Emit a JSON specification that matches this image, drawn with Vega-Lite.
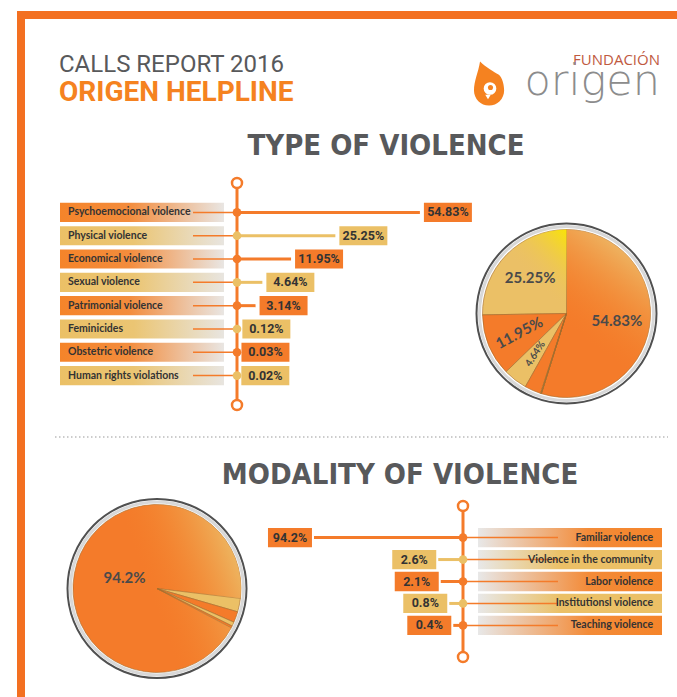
{
"$schema":"https://vega.github.io/schema/vega-lite/v6.json",
"background":"white",
"padding":{"left":17,"top":11,"right":0,"bottom":0},
"config":{"view":{"stroke":null},"axis":{"disable":true},"concat":{"spacing":0}},
"datasets":{
 "types":[
  {"type":"Psychoemocional violence","share":0.5483},
  {"type":"Physical violence","share":0.2525},
  {"type":"Economical violence","share":0.1195},
  {"type":"Sexual violence","share":0.0464},
  {"type":"Patrimonial violence","share":0.0314},
  {"type":"Feminicides","share":0.0012},
  {"type":"Obstetric violence","share":0.0003},
  {"type":"Human rights violations","share":0.0002}
 ],
 "modes":[
  {"mode":"Familiar violence","share":0.942},
  {"mode":"Violence in the community","share":0.026},
  {"mode":"Labor violence","share":0.021},
  {"mode":"Institutionsl violence","share":0.008},
  {"mode":"Teaching violence","share":0.004}
 ],
 "blank":[{}],
 "none":[]
},
"spacing":0,
"hconcat":[
 {"width":8,"height":686,"view":{"fill":"#F37021"},"data":{"name":"none"},"mark":"point"},
 {"spacing":0,"vconcat":[
  {"width":652,"height":8,"view":{"fill":"#F37021"},"data":{"name":"none"},"mark":"point"},
  {"width":652,"height":34,"data":{"name":"none"},"mark":"point"},
  {"spacing":0,"hconcat":[
   {"width":390,"height":21,"data":{"name":"none"},"mark":"point",
    "title":{"text":"CALLS REPORT 2016","subtitle":"ORIGEN HELPLINE","anchor":"start","frame":"group","dx":34,"offset":4,"font":"Roboto","fontSize":24,"fontWeight":"normal","color":"#58595B","subtitleFont":"Roboto","subtitleFontSize":28,"subtitleFontWeight":"bold","subtitleColor":"#F58220","subtitlePadding":2}},
   {"width":90,"height":21,"data":{"name":"blank"},
    "layer":[
     {"mark":{"type":"point","shape":"M-0.42,-1 C-0.15,-0.72 0.2,-0.55 0.4,-0.42 C0.58,-0.28 0.65,0.05 0.65,0.29 C0.65,0.66 0.35,0.96 -0.02,0.96 C-0.39,0.96 -0.69,0.66 -0.69,0.29 C-0.69,-0.15 -0.5,-0.5 -0.42,-1 Z","size":2025,"filled":true,"color":"#F58220","opacity":1},"encoding":{"x":{"value":74.5},"y":{"value":-27}}},
     {"mark":{"type":"point","shape":"circle","size":160,"filled":true,"color":"white","opacity":1},"encoding":{"x":{"value":75},"y":{"value":-22.5}}},
     {"mark":{"type":"point","shape":"triangle-down","size":30,"filled":true,"color":"white","opacity":1},"encoding":{"x":{"value":73},"y":{"value":-14}}},
     {"mark":{"type":"point","shape":"circle","size":26,"filled":true,"color":"#F58220","opacity":1},"encoding":{"x":{"value":75.5},"y":{"value":-23.5}}}
    ]},
   {"width":172,"height":21,"data":{"name":"none"},"mark":"point",
    "title":{"text":"FUNDACIÓN","subtitle":"origen","anchor":"end","frame":"group","dx":-17,"offset":7,"font":"Open Sans","fontSize":15,"fontWeight":"normal","color":"#BF5A3F","subtitleFont":"DejaVu Sans","subtitleFontSize":43,"subtitleFontWeight":200,"subtitleColor":"#8C8C8C","subtitlePadding":-7}}
  ]},
  {"title":{"text":"TYPE OF VIOLENCE","anchor":"middle","dx":33,"offset":12,"font":"DejaVu Sans Condensed","fontSize":29,"fontWeight":"bold","color":"#58595B"},
   "spacing":0,
   "hconcat":[
    {"width":446,"height":236,"data":{"name":"types"},
     "layer":[
      {"transform":[{"filter":{"field":"type","oneOf":["Psychoemocional violence","Economical violence","Patrimonial violence","Obstetric violence"]}}],
       "mark":{"type":"rect","x":35,"x2":199,"fill":{"gradient":"linear","x1":0,"y1":0,"x2":1,"y2":0,"stops":[{"offset":0,"color":"#F5842A"},{"offset":0.42,"color":"#F38C3C"},{"offset":1,"color":"#E9E6E3"}]}},
       "encoding":{"y":{"field":"type","type":"nominal","sort":null,"axis":null,"scale":{"domain":["Psychoemocional violence","Physical violence","Economical violence","Sexual violence","Patrimonial violence","Feminicides","Obstetric violence","Human rights violations"],"range":[7,229],"paddingOuter":0.85,"paddingInner":0.18}}}},
      {"transform":[{"filter":{"field":"type","oneOf":["Physical violence","Sexual violence","Feminicides","Human rights violations"]}}],
       "mark":{"type":"rect","x":35,"x2":199,"fill":{"gradient":"linear","x1":0,"y1":0,"x2":1,"y2":0,"stops":[{"offset":0,"color":"#EBC066"},{"offset":0.45,"color":"#EBC573"},{"offset":1,"color":"#E8E5E0"}]}},
       "encoding":{"y":{"field":"type","type":"nominal","sort":null}}},
      {"mark":{"type":"rule","x":168,"x2":212,"color":"#F47B2A","strokeWidth":1.5},"encoding":{"y":{"field":"type","type":"nominal","sort":null}}},
      {"mark":{"type":"text","x":43,"align":"left","font":"Lato","fontSize":10.5,"fontWeight":"bold","color":"#333333"},"encoding":{"y":{"field":"type","type":"nominal","sort":null},"text":{"field":"type"}}},
      {"data":{"name":"blank"},"mark":{"type":"rule","y":7,"y2":229,"color":"#F47B2A","strokeWidth":3},"encoding":{"x":{"datum":0,"type":"quantitative","axis":null,"scale":{"type":"pow","exponent":0.8,"domain":[0,0.754],"range":[212,448],"nice":false}}}},
      {"mark":{"type":"rule","strokeWidth":3},"encoding":{
        "x":{"field":"share","type":"quantitative"},
        "x2":{"datum":0},
        "y":{"field":"type","type":"nominal","sort":null},
        "color":{"field":"type","type":"nominal","legend":null,"scale":{"domain":["Psychoemocional violence","Physical violence","Economical violence","Sexual violence","Patrimonial violence","Feminicides","Obstetric violence","Human rights violations"],"range":["#F47B2A","#EBC066","#F47B2A","#EBC066","#F47B2A","#EBC066","#F47B2A","#EBC066"]}}}},
      {"data":{"name":"blank"},"mark":{"type":"point","filled":true,"fill":"white","stroke":"#F47B2A","strokeWidth":2.5,"size":100,"opacity":1},"encoding":{"x":{"datum":0,"type":"quantitative"},"y":{"value":7}}},
      {"data":{"name":"blank"},"mark":{"type":"point","filled":true,"fill":"white","stroke":"#F47B2A","strokeWidth":2.5,"size":100,"opacity":1},"encoding":{"x":{"datum":0,"type":"quantitative"},"y":{"value":229}}},
      {"mark":{"type":"point","filled":true,"size":75,"opacity":1},"encoding":{"x":{"datum":0,"type":"quantitative"},"y":{"field":"type","type":"nominal","sort":null},"color":{"field":"type","type":"nominal"}}},
      {"mark":{"type":"rect","xOffset":4,"x2Offset":52},"encoding":{"x":{"field":"share","type":"quantitative"},"x2":{"field":"share"},"y":{"field":"type","type":"nominal","sort":null},"color":{"field":"type","type":"nominal"}}},
      {"mark":{"type":"text","xOffset":28,"font":"Roboto","fontSize":12.5,"fontWeight":"bold","color":"#333333"},"encoding":{"x":{"field":"share","type":"quantitative"},"y":{"field":"type","type":"nominal","sort":null},"text":{"field":"share","type":"quantitative","format":".2%"}}}
     ]},
    {"width":206,"height":236,"data":{"name":"types"},
     "layer":[
      {"data":{"name":"blank"},"mark":{"type":"arc","theta":0,"theta2":6.2832,"radius":90,"fill":"white","stroke":"#505050","strokeWidth":2,"xOffset":-11.5,"yOffset":19.5},"encoding":{}},
      {"data":{"name":"blank"},"mark":{"type":"arc","theta":0,"theta2":6.2832,"radius":87,"fill":"white","stroke":"#d8d8d8","strokeWidth":3,"xOffset":-11.5,"yOffset":19.5},"encoding":{}},
      {"mark":{"type":"arc","radius":84,"stroke":"#a36b2c","strokeWidth":0.6,"xOffset":-11.5,"yOffset":19.5},"encoding":{
        "theta":{"field":"share","type":"quantitative","stack":true,"scale":{"range":[3.4454,9.7286]}},
        "order":{"field":"share","sort":"ascending"},
        "color":{"field":"type","type":"nominal","legend":null,"scale":{"domain":["Psychoemocional violence","Physical violence","Economical violence","Sexual violence","Patrimonial violence","Feminicides","Obstetric violence","Human rights violations"],"range":["#F5842A","#EBC066","#F5842A","#E9CB50","#F5842A","#EBC066","#F5842A","#EBC066"]}}}},
      {"mark":{"type":"arc","radius":84,"xOffset":-11.5,"yOffset":19.5,"fill":{"gradient":"linear","x1":0.6,"y1":0,"x2":0.3,"y2":0.6,"stops":[{"offset":0,"color":"rgba(236,192,110,0.9)"},{"offset":1,"color":"rgba(245,132,42,0)"}]}},"encoding":{
        "theta":{"field":"share","type":"quantitative","stack":true},
        "order":{"field":"share","sort":"ascending"},
        "fillOpacity":{"condition":{"test":"datum.type === 'Psychoemocional violence'","value":1},"value":0}}},
      {"mark":{"type":"arc","radius":84,"xOffset":-11.5,"yOffset":19.5,"fill":{"gradient":"linear","x1":1,"y1":0,"x2":0.5,"y2":0.5,"stops":[{"offset":0,"color":"rgba(250,230,0,0.95)"},{"offset":1,"color":"rgba(235,192,102,0)"}]}},"encoding":{
        "theta":{"field":"share","type":"quantitative","stack":true},
        "order":{"field":"share","sort":"ascending"},
        "fillOpacity":{"condition":{"test":"datum.type === 'Physical violence'","value":1},"value":0}}},
      {"mark":{"type":"text","radius":51,"xOffset":-11.5,"yOffset":19.5,"font":"Lato","fontWeight":"bold","color":"#4a4a4a"},"encoding":{
        "theta":{"field":"share","type":"quantitative","stack":true},
        "order":{"field":"share","sort":"ascending"},
        "text":{"field":"share","type":"quantitative","format":".2%"},
        "size":{"condition":{"test":"datum.type === 'Sexual violence'","value":10},"value":15},
        "angle":{"condition":[{"test":"datum.type === 'Economical violence'","value":-28},{"test":"datum.type === 'Sexual violence'","value":-57}],"value":0},
        "opacity":{"condition":{"test":"datum.share < 0.04","value":0},"value":1}}}
     ]}
   ]},
  {"width":652,"height":46,"data":{"name":"blank"},"mark":{"type":"rule","strokeDash":[1.5,2.5],"color":"#9a9a9a","strokeWidth":1.2},"encoding":{"x":{"value":30},"x2":{"value":643},"y":{"value":22}}},
  {"title":{"text":"MODALITY OF VIOLENCE","anchor":"middle","dx":49,"offset":5,"font":"DejaVu Sans Condensed","fontSize":29,"fontWeight":"bold","color":"#58595B"},
   "spacing":0,
   "hconcat":[
    {"width":235,"height":167,"data":{"name":"modes"},
     "layer":[
      {"data":{"name":"blank"},"mark":{"type":"arc","theta":0,"theta2":6.2832,"radius":89.5,"fill":"white","stroke":"#505050","strokeWidth":2,"xOffset":14.5,"yOffset":8},"encoding":{}},
      {"data":{"name":"blank"},"mark":{"type":"arc","theta":0,"theta2":6.2832,"radius":86.5,"fill":"white","stroke":"#d8d8d8","strokeWidth":3,"xOffset":14.5,"yOffset":8},"encoding":{}},
      {"mark":{"type":"arc","radius":84,"stroke":"#a36b2c","strokeWidth":0.6,"xOffset":14.5,"yOffset":8},"encoding":{
        "theta":{"field":"share","type":"quantitative","stack":true,"scale":{"range":[2.0595,8.3427]}},
        "order":{"field":"share","sort":"descending"},
        "color":{"field":"mode","type":"nominal","legend":null,"scale":{"domain":["Familiar violence","Violence in the community","Labor violence","Institutionsl violence","Teaching violence"],"range":["#F5842A","#E9CB50","#F5842A","#C9A24A","#F5842A"]}}}},
      {"mark":{"type":"arc","radius":84,"xOffset":14.5,"yOffset":8,"fill":{"gradient":"linear","x1":1,"y1":0.3,"x2":0.45,"y2":0.5,"stops":[{"offset":0,"color":"rgba(236,190,105,0.95)"},{"offset":1,"color":"rgba(245,132,42,0)"}]}},"encoding":{
        "theta":{"field":"share","type":"quantitative","stack":true},
        "order":{"field":"share","sort":"descending"},
        "fillOpacity":{"condition":{"test":"datum.mode === 'Familiar violence'","value":1},"value":0}}},
      {"mark":{"type":"text","radius":34,"xOffset":14.5,"yOffset":8,"font":"Lato","fontSize":15,"fontWeight":"bold","color":"#4a4a4a"},"encoding":{
        "theta":{"field":"share","type":"quantitative","stack":true},
        "order":{"field":"share","sort":"descending"},
        "text":{"field":"share","type":"quantitative","format":".1%"},
        "opacity":{"condition":{"test":"datum.share < 0.5","value":0},"value":1}}}
     ]},
    {"width":417,"height":167,"data":{"name":"modes"},
     "layer":[
      {"transform":[{"filter":{"field":"mode","oneOf":["Familiar violence","Labor violence","Teaching violence"]}}],
       "mark":{"type":"rect","x":218,"x2":402,"fill":{"gradient":"linear","x1":0,"y1":0,"x2":1,"y2":0,"stops":[{"offset":0,"color":"#E8E8E8"},{"offset":0.6,"color":"#F38B38"},{"offset":1,"color":"#F5842A"}]}},
       "encoding":{"y":{"field":"mode","type":"nominal","sort":null,"axis":null,"scale":{"domain":["Familiar violence","Violence in the community","Labor violence","Institutionsl violence","Teaching violence"],"range":[9,160],"paddingOuter":1.07,"paddingInner":0.12}}}},
      {"transform":[{"filter":{"field":"mode","oneOf":["Violence in the community","Institutionsl violence"]}}],
       "mark":{"type":"rect","x":218,"x2":402,"fill":{"gradient":"linear","x1":0,"y1":0,"x2":1,"y2":0,"stops":[{"offset":0,"color":"#E8E8E8"},{"offset":0.45,"color":"#EBC066"},{"offset":1,"color":"#EBC066"}]}},
       "encoding":{"y":{"field":"mode","type":"nominal","sort":null}}},
      {"mark":{"type":"rule","x":203,"x2":298,"color":"#F47B2A","strokeWidth":1.5},"encoding":{"y":{"field":"mode","type":"nominal","sort":null}}},
      {"mark":{"type":"text","x":393,"align":"right","font":"Lato","fontSize":10.5,"fontWeight":"bold","color":"#333333"},"encoding":{"y":{"field":"mode","type":"nominal","sort":null},"text":{"field":"mode"}}},
      {"data":{"name":"blank"},"mark":{"type":"rule","y":9,"y2":160,"color":"#F47B2A","strokeWidth":3},"encoding":{"x":{"datum":0,"type":"quantitative","axis":null,"scale":{"type":"sqrt","domain":[0,1.748],"range":[203,0],"nice":false}}}},
      {"mark":{"type":"rule","strokeWidth":3},"encoding":{
        "x":{"field":"share","type":"quantitative"},
        "x2":{"datum":0},
        "y":{"field":"mode","type":"nominal","sort":null},
        "color":{"field":"mode","type":"nominal","legend":null,"scale":{"domain":["Familiar violence","Violence in the community","Labor violence","Institutionsl violence","Teaching violence"],"range":["#F47B2A","#EBC066","#F47B2A","#EBC066","#F47B2A"]}}}},
      {"data":{"name":"blank"},"mark":{"type":"point","filled":true,"fill":"white","stroke":"#F47B2A","strokeWidth":2.5,"size":100,"opacity":1},"encoding":{"x":{"datum":0,"type":"quantitative"},"y":{"value":9}}},
      {"data":{"name":"blank"},"mark":{"type":"point","filled":true,"fill":"white","stroke":"#F47B2A","strokeWidth":2.5,"size":100,"opacity":1},"encoding":{"x":{"datum":0,"type":"quantitative"},"y":{"value":160}}},
      {"mark":{"type":"point","filled":true,"size":75,"opacity":1},"encoding":{"x":{"datum":0,"type":"quantitative"},"y":{"field":"mode","type":"nominal","sort":null},"color":{"field":"mode","type":"nominal"}}},
      {"mark":{"type":"rect","xOffset":-46,"x2Offset":-2},"encoding":{"x":{"field":"share","type":"quantitative"},"x2":{"field":"share"},"y":{"field":"mode","type":"nominal","sort":null},"color":{"field":"mode","type":"nominal"}}},
      {"mark":{"type":"text","xOffset":-24,"font":"Roboto","fontSize":12.5,"fontWeight":"bold","color":"#333333"},"encoding":{"x":{"field":"share","type":"quantitative"},"y":{"field":"mode","type":"nominal","sort":null},"text":{"field":"share","type":"quantitative","format":".1%"}}}
     ]}
   ]}
 ]}
]
}
